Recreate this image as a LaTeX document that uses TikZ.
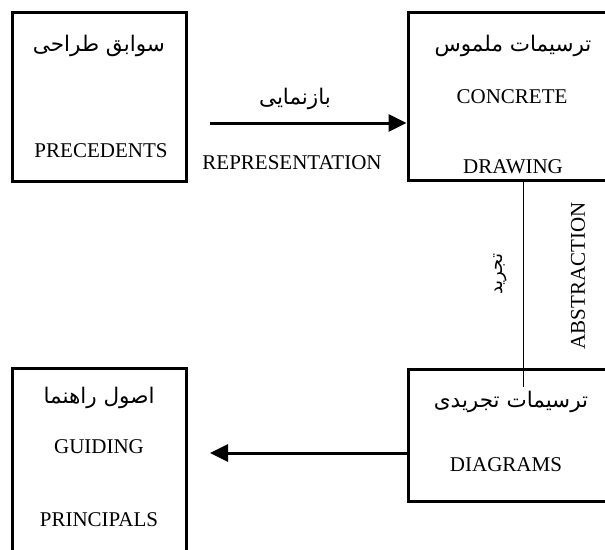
\documentclass[tikz,border=0pt]{standalone}
\usepackage{fontspec}
\setmainfont{Liberation Serif}
\newfontfamily\farsi[Script=Arabic]{DejaVu Sans}
\TeXXeTstate=1
\usetikzlibrary{arrows.meta,positioning}

\tikzset{
  box/.style={draw, line width=3pt, inner sep=0pt},
  lat/.style={font=\fontsize{21}{25}\selectfont},
  fa/.style={font=\farsi\fontsize{21.5}{26}\selectfont},
  flow/.style={line width=3pt, -{Triangle[length=18pt,width=17pt]}},
}

\begin{document}
\begin{tikzpicture}[x=1pt,y=-1pt]
\useasboundingbox (0,0) rectangle (605,549);
\clip (0,0) rectangle (605,549);
% boxes
\node[box, minimum width=174pt, minimum height=169pt] (prec) at (99,96.5) {};
\node[box, minimum width=212pt, minimum height=168pt] (conc) at (514,96) {};
\node[box, minimum width=174pt, minimum height=202pt] (guide) at (99,469) {};
\node[box, minimum width=212pt, minimum height=132pt] (diag) at (514,435) {};
% box texts
\node[fa] (precFa) at (99,46) {\beginR سوابق طراحی\endR};
\node[lat] (precEn) at (101,151) {PRECEDENTS};
\node[fa] (concFa) at (513,46) {\beginR ترسیمات ملموس\endR};
\node[lat] (concEn) at (512,97) {CONCRETE};
\node[lat] (concEn2) at (513,167) {DRAWING};
\node[fa] (diagFa) at (511,402) {\beginR ترسیمات تجریدی\endR};
\node[lat] (diagEn) at (506,465) {DIAGRAMS};
\node[fa] (guideFa) at (99,398) {\beginR اصول راهنما\endR};
\node[lat] (guideEn) at (99,447) {GUIDING};
\node[lat] (guideEn2) at (99,520) {PRINCIPALS};
% connectors
\coordinate (repStart) at (210,123);
\draw[flow] (repStart) -- (repStart -| conc.west);
\node[fa] (repFa) at (295,99) {\beginR بازنمایی\endR};
\node[lat] (repEn) at (292,163) {REPRESENTATION};
\coordinate (absEnd) at (523,387);
\draw[line width=1pt] (absEnd |- conc.south) -- (absEnd);
\node[fa, rotate=90, font=\farsi\fontsize{18}{22}\selectfont] (absFa) at (500,274) {\beginR تجرید\endR};
\node[lat, rotate=90] (absEn) at (578,276) {ABSTRACTION};
\coordinate (guideEnd) at (210,453);
\draw[flow] (guideEnd -| diag.west) -- (guideEnd);
\end{tikzpicture}
\end{document}
